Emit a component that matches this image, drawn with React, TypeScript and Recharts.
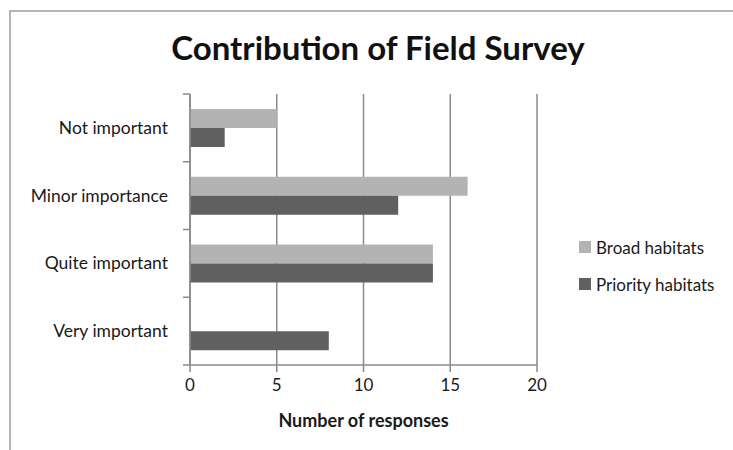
import React from "react";
import { BarChart, Bar, XAxis, YAxis, CartesianGrid, Legend } from "recharts";

const categories = ["Not important", "Minor importance", "Quite important", "Very important"];
const broadHabitats = [5, 16, 14, 0];
const priorityHabitats = [2, 12, 14, 8];
const xTicks = [0, 5, 10, 15, 20];

const seriesNames = ["Broad habitats", "Priority habitats"];
const seriesColors = ["#b3b3b3", "#606060"];

const data = categories.map((c, i) => ({
  category: c,
  broad: broadHabitats[i],
  priority: priorityHabitats[i],
}));

const FONT = "Lato, 'Open Sans', sans-serif";
const AXIS = "#8a8a8a";

const W = 733;
const H = 450;
const MARGIN = { top: 94, right: 196, bottom: 55, left: 0 };
const YW = 190;
const XH = 30;
const plotH = H - MARGIN.top - MARGIN.bottom - XH;
const band = plotH / categories.length;

const YTick = (props: any) => {
  const { x, y, payload, index } = props;
  return (
    <g>
      <line x1={x - 7} x2={x} y1={y - band / 2} y2={y - band / 2} stroke={AXIS} strokeWidth={1.5} />
      {index === categories.length - 1 && (
        <line x1={x - 7} x2={x} y1={y + band / 2} y2={y + band / 2} stroke={AXIS} strokeWidth={1.5} />
      )}
      <text x={x - 22} y={y} dy={6} textAnchor="end" fontSize={17.5} fill="#1a1a1a" fontFamily={FONT}>
        {payload.value}
      </text>
    </g>
  );
};

const LegendContent = () => (
  <div style={{ fontFamily: FONT, fontSize: 17, color: "#1a1a1a" }}>
    {seriesNames.map((n, i) => (
      <div key={n} style={{ display: "flex", alignItems: "center", height: 20, marginBottom: i === 0 ? 17 : 0 }}>
        <span style={{ display: "inline-block", width: 12, height: 12, background: seriesColors[i], marginRight: 5 }} />
        <span>{n}</span>
      </div>
    ))}
  </div>
);

export default function App() {
  return (
    <div style={{ position: "fixed", left: 0, top: 0, width: W, height: H, overflow: "hidden", background: "#fff" }}>
      <svg width={W} height={H} style={{ position: "absolute", left: 0, top: 0 }}>
        <path d={`M10 ${H + 5} V11 H${W + 5}`} fill="none" stroke="#b5b5b5" strokeWidth={2} />
      </svg>
      <div
        style={{
          position: "absolute",
          left: 0,
          width: 756,
          top: 27,
          textAlign: "center",
          fontFamily: FONT,
          fontWeight: 700,
          fontSize: 33,
          lineHeight: "40px",
          color: "#111",
        }}
      >
        Contribution of Field Survey
      </div>
      <div style={{ position: "absolute", left: 0, top: 0 }}>
        <BarChart
          width={W}
          height={H}
          data={data}
          layout="vertical"
          margin={MARGIN}
          barCategoryGap="22%"
          barGap={0}
        >
          <CartesianGrid horizontal={false} vertical={true} stroke={AXIS} strokeWidth={1.5} />
          <XAxis
            type="number"
            domain={[0, 20]}
            ticks={xTicks}
            height={XH}
            stroke={AXIS}
            strokeWidth={1.5}
            tickSize={7}
            tickMargin={7}
            tick={{ fontSize: 17, fill: "#1a1a1a", fontFamily: FONT }}
            label={{
              value: "Number of responses",
              position: "bottom",
              offset: 19,
              style: { fontSize: 18, fontWeight: 700, fill: "#1a1a1a", fontFamily: FONT },
            }}
          />
          <YAxis
            type="category"
            dataKey="category"
            width={YW}
            stroke={AXIS}
            strokeWidth={1.5}
            tickLine={false}
            tickSize={0}
            tickMargin={0}
            tick={<YTick />}
          />
          <Legend
            layout="horizontal"
            align="center"
            verticalAlign="middle"
            content={<LegendContent />}
            wrapperStyle={{ left: 579, top: 237, width: 154 }}
          />
          <Bar dataKey="broad" name={seriesNames[0]} fill={seriesColors[0]} isAnimationActive={false} />
          <Bar dataKey="priority" name={seriesNames[1]} fill={seriesColors[1]} isAnimationActive={false} />
        </BarChart>
      </div>
    </div>
  );
}
